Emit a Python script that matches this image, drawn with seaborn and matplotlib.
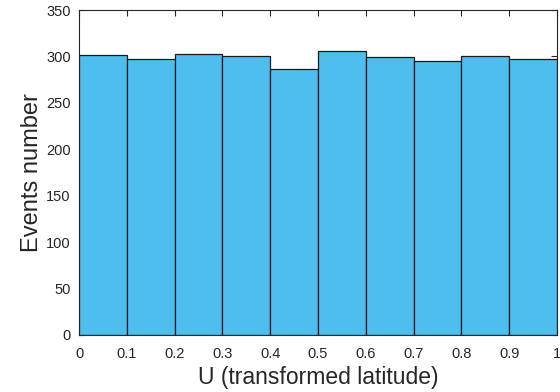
import numpy as np
import matplotlib.pyplot as plt
import seaborn as sns

# bin edges and event counts
bin_edges = [0.0, 0.1, 0.2, 0.3, 0.4, 0.5, 0.6, 0.7, 0.8, 0.9, 1.0]
bin_centers = [0.05, 0.15, 0.25, 0.35, 0.45, 0.55, 0.65, 0.75, 0.85, 0.95]
event_counts = [302, 297, 303, 300, 287, 306, 299, 295, 300, 297]
x_ticks = [0, 0.1, 0.2, 0.3, 0.4, 0.5, 0.6, 0.7, 0.8, 0.9, 1]
x_tick_labels = ['0', '0.1', '0.2', '0.3', '0.4', '0.5', '0.6', '0.7', '0.8', '0.9', '1']
y_ticks = [0, 50, 100, 150, 200, 250, 300, 350]

sns.set_style("ticks")
plt.rcParams['font.family'] = ['Liberation Sans', 'DejaVu Sans']

fig = plt.figure(figsize=(5.6, 3.92), dpi=100)
ax = fig.add_axes([79 / 560, (392 - 335) / 392, (557 - 79) / 560, (335 - 10) / 392])

sns.histplot(x=bin_centers, weights=event_counts, bins=bin_edges, ax=ax,
             color='#4DBEEE', alpha=1.0, edgecolor='#1a1a1a', linewidth=0.9)

ax.set_xlim(0, 1)
ax.set_ylim(0, 350)
ax.set_xticks(x_ticks)
ax.set_xticklabels(x_tick_labels)
ax.set_yticks(y_ticks)
ax.tick_params(direction='in', length=4, width=0.8, colors='#262626',
               labelsize=10.5, top=True, right=True)
ax.tick_params(axis='x', pad=9)
ax.tick_params(axis='y', pad=6)
for s in ax.spines.values():
    s.set_visible(True)
    s.set_color('#262626')
    s.set_linewidth(0.8)

ax.set_xlabel('U (transformed latitude)', fontsize=16.5, color='#262626', labelpad=3)
ax.set_ylabel('Events number', fontsize=17, color='#262626', labelpad=2)

fig.savefig('out.png', dpi=100)
